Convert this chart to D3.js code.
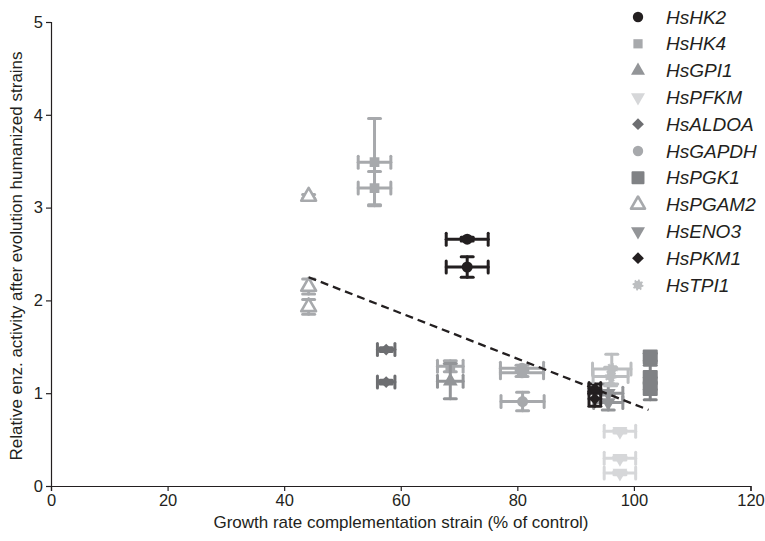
<!DOCTYPE html>
<html><head><meta charset="utf-8">
<script src="https://cdn.jsdelivr.net/npm/d3@7"></script>
<style>body{margin:0;background:#fff}text{font-family:"Liberation Sans",Arial,sans-serif}</style>
</head><body><svg id="c" width="765" height="541"></svg>
<script>
// ---- data ----
const seriesNames = ["HsHK2","HsHK4","HsGPI1","HsPFKM","HsALDOA","HsGAPDH","HsPGK1","HsPGAM2","HsENO3","HsPKM1","HsTPI1"];
// each point: [x, y, xErr, yErr]
const hk2   = [[71.4,2.66,3.6,0.02],[71.4,2.36,3.6,0.11]];
const hk4   = [[55.5,3.49,2.8,0.47],[55.5,3.21,2.8,0.18],[68.5,1.29,2.2,0.06]];
const gpi1  = [[68.5,1.13,2.2,0.19]];
const pfkm  = [[97.6,0.59,2.7,0.02],[97.6,0.30,2.7,0.02],[97.6,0.14,2.7,0.02]];
const aldoa = [[57.5,1.47,1.5,0.02],[57.5,1.12,1.5,0.02]];
const gapdh = [[80.8,1.27,3.7,0.03],[80.8,1.22,3.7,0.04],[80.9,0.91,3.7,0.10]];
const pgk1  = [[102.8,1.39,0,0.04],[102.8,1.17,0,0.13],[102.8,1.05,0,0.12]];
const pgam2 = [[44.2,3.12,0,0.02],[44.2,2.15,0,0.08],[44.2,1.93,0,0.08]];
const eno3  = [[95.6,1.0,2.5,0.1],[95.6,0.9,2.5,0.08]];
const pkm1  = [[93.3,1.05,1.0,0.05],[93.3,0.94,1.0,0.08]];
const tpi1  = [[96.2,1.26,3.3,0.16],[96.0,1.18,3.0,0.1]];
const trendX = [44.2, 102.5];
const trendY = [2.25, 0.82];
const xTicks = [0,20,40,60,80,100,120];
const yTicks = [0,1,2,3,4,5];

// ---- style ----
const seriesData = [hk2,hk4,gpi1,pfkm,aldoa,gapdh,pgk1,pgam2,eno3,pkm1,tpi1];
const colors = ["#231f20","#a7a9ac","#939598","#d6d7d9","#6d6e71","#a7a9ac","#808285","#a7a9ac","#939598","#231f20","#bcbec0"];
const shapes = ["circle","square","triangle","tdown","diamond","circle","bigsquare","otri","tdown","diamond","gear"];

const svg = d3.select("#c");
const x = d3.scaleLinear().domain([0,120]).range([51,750.5]);
const y = d3.scaleLinear().domain([0,5]).range([486,22]);

// axes
const xa = svg.append("g").attr("transform","translate(0,486)")
  .call(d3.axisBottom(x).tickValues(xTicks).tickFormat(d3.format("d")).tickSize(5).tickPadding(3));
const ya = svg.append("g").attr("transform","translate(51,0)")
  .call(d3.axisLeft(y).tickValues(yTicks).tickFormat(d3.format("d")).tickSize(5).tickPadding(3));
[xa,ya].forEach(a=>{
  a.select(".domain").attr("stroke","#231f20").attr("stroke-width",1.2);
  a.selectAll(".tick line").attr("stroke","#231f20").attr("stroke-width",1.2);
  a.selectAll(".tick text").attr("font-size",16.5).attr("fill","#231f20");
});
svg.append("text").attr("x",401).attr("y",528).attr("text-anchor","middle")
  .attr("font-size",17).attr("fill","#231f20").text("Growth rate complementation strain (% of control)");
svg.append("text").attr("transform","translate(22,256) rotate(-90)").attr("text-anchor","middle")
  .attr("font-size",17).attr("fill","#231f20").text("Relative enz. activity after evolution humanized strains");

const gearSym = {draw(ctx,size){
  const r = Math.sqrt(size/Math.PI)*1.1, ri = r*0.78, n=8;
  for(let k=0;k<n*2;k++){
    const a0 = (k/(n*2))*2*Math.PI, a1=((k+1)/(n*2))*2*Math.PI, rr = k%2? ri : r;
    const p0=[rr*Math.cos(a0),rr*Math.sin(a0)], p1=[rr*Math.cos(a1),rr*Math.sin(a1)];
    if(k===0) ctx.moveTo(p0[0],p0[1]); else ctx.lineTo(p0[0],p0[1]);
    ctx.lineTo(p1[0],p1[1]);
  }
  ctx.closePath();
}};
function symPath(shape, size){
  const m = {circle:d3.symbolCircle,square:d3.symbolSquare,bigsquare:d3.symbolSquare,triangle:d3.symbolTriangle,
             tdown:d3.symbolTriangle,diamond:d3.symbolSquare,otri:d3.symbolTriangle,gear:gearSym};
  return d3.symbol().type(m[shape]).size(size)();
}
function drawMarker(g, shape, color, cx, cy, size){
  let tr = `translate(${cx},${cy})`;
  if(shape==="tdown") tr += " rotate(180)";
  if(shape==="diamond") tr += " rotate(45)";
  const p = g.append("path").attr("d",symPath(shape,size)).attr("fill",color).attr("transform",tr);
  if(shape==="otri"){p.attr("fill","#fff").attr("stroke",color).attr("stroke-width",2.6).attr("stroke-linejoin","round");}
  if(shape==="bigsquare"){p.attr("stroke",color).attr("stroke-width",2).attr("stroke-linejoin","round");}
  return p;
}

const plot = svg.append("g");
const cap = 6;
seriesData.forEach((pts,i)=>{
  const col = colors[i];
  const g = plot.append("g");
  pts.forEach(([px,py,xe,ye])=>{
    const cx=x(px), cy=y(py);
    const eb = g.append("g").attr("stroke",col).attr("stroke-width",3).attr("stroke-linecap","round");
    if(xe>0){
      eb.append("line").attr("x1",x(px-xe)).attr("x2",x(px+xe)).attr("y1",cy).attr("y2",cy);
      [px-xe,px+xe].forEach(v=>eb.append("line").attr("x1",x(v)).attr("x2",x(v)).attr("y1",cy-cap).attr("y2",cy+cap));
    }
    if(ye>0){
      eb.append("line").attr("x1",cx).attr("x2",cx).attr("y1",y(py-ye)).attr("y2",y(py+ye));
      [py-ye,py+ye].forEach(v=>eb.append("line").attr("x1",cx-cap).attr("x2",cx+cap).attr("y1",y(v)).attr("y2",y(v)));
    }
    const sz = shapes[i]==="bigsquare" ? 170 : shapes[i]==="diamond" ? 70 : 95;
    drawMarker(g, shapes[i], col, cx, cy, sz);
  });
});

// trend line
svg.append("line").attr("x1",x(trendX[0])).attr("y1",y(trendY[0])).attr("x2",x(trendX[1])).attr("y2",y(trendY[1]))
  .attr("stroke","#231f20").attr("stroke-width",2.3).attr("stroke-dasharray","8,5");

// legend
const lg = svg.append("g");
seriesNames.forEach((n,i)=>{
  const ly = 17 + i*26.8;
  const s = shapes[i];
  drawMarker(lg, s, colors[i], 638, ly, s==="bigsquare"?120 : s==="diamond"?70 : s==="gear"?80 : 85);
  lg.append("text").attr("x",666).attr("y",ly+6.5).attr("font-size",19).attr("font-style","italic")
    .attr("fill","#231f20").text(n);
});
</script></body></html>
